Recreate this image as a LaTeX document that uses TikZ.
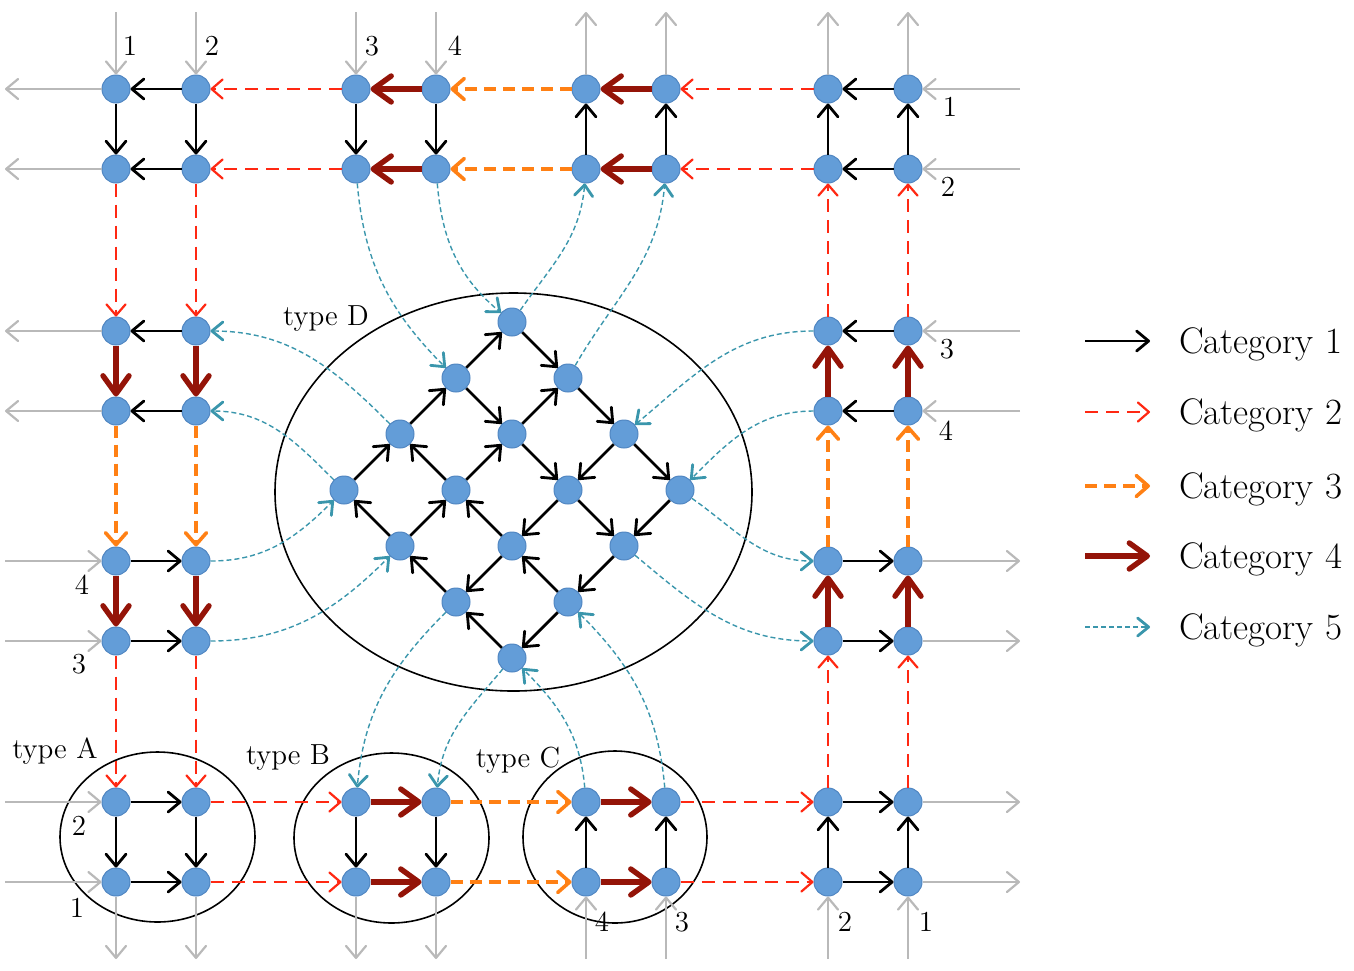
\documentclass[tikz,border=0pt]{standalone}
\usepackage{tikz}
\usetikzlibrary{arrows.meta}
\definecolor{dotblue}{RGB}{99,157,216}
\definecolor{dotedge}{RGB}{80,134,194}
\definecolor{redline}{RGB}{255,40,18}
\definecolor{orangeline}{RGB}{255,128,20}
\definecolor{darkredline}{RGB}{148,20,8}
\definecolor{tealline}{RGB}{58,150,172}
\definecolor{stubgray}{RGB}{185,185,185}

\begin{document}
\begin{tikzpicture}[
  x=0.5pt, y=-0.5pt,
  font=\fontsize{14.5}{16}\selectfont,
  dot/.style={circle,fill=dotblue,draw=dotedge,line width=0.5pt,minimum size=14pt,inner sep=0pt},
  zone/.style={draw,line width=0.8pt},
  cat1/.style={-{Straight Barb[length=6pt,width=10pt,line width=1.4pt,round]},line width=1.4pt,black},
  cat2/.style={-{Straight Barb[length=5.5pt,width=9.5pt,line width=1.1pt,round]},line width=0.8pt,redline,dash pattern=on 6.5pt off 4pt},
  cat3/.style={-{Straight Barb[length=6pt,width=10.5pt,line width=1.8pt,round]},line width=2pt,orangeline,dash pattern=on 6pt off 3.5pt},
  cat4/.style={-{Straight Barb[length=9pt,width=13pt,line width=2.7pt,round]},line width=2.7pt,darkredline},
  cat5/.style={-{Straight Barb[length=5.5pt,width=9pt,line width=1.4pt,round]},line width=0.7pt,tealline,dash pattern=on 2.5pt off 1.5pt},
  stub/.style={-{Straight Barb[length=6pt,width=10pt,line width=1.1pt,round]},line width=1.1pt,stubgray},
  legtext/.style={anchor=base west,font=\fontsize{18.5}{21}\selectfont}
]
\useasboundingbox (0,0) rectangle (1354,970);

\foreach \b/\x/\y in {a/116/89,b/356/89,c/586/89,d/828/89,e/828/331,f/828/561,g/828/802,h/586/802,k/356/802,m/116/802,n/116/561,p/116/331}{
  \node[dot] (\b1) at (\x,\y) {};
  \node[dot] (\b2) at (\x+80,\y) {};
  \node[dot] (\b3) at (\x,\y+80) {};
  \node[dot] (\b4) at (\x+80,\y+80) {};
}
\foreach \i in {0,...,3}
  \foreach \j in {0,...,3}
    \node[dot] (q\i\j) at (512+56*\i-56*\j,322+56*\i+56*\j) {};

\draw[zone] (157.5,837) ellipse [x radius=48.75pt, y radius=42.5pt];
\draw[zone] (391.5,838) ellipse [x radius=48.75pt, y radius=42.5pt];
\draw[zone] (615,837) ellipse [x radius=46pt, y radius=43pt];
\draw[zone] (513.5,492) ellipse [x radius=119.25pt, y radius=99.5pt];
\node (typeA) at (55,751) {type A};
\node (typeB) at (288,758) {type B};
\node (typeC) at (518,760) {type C};
\node (typeD) at (326,319) {type D};

\foreach \s/\t in {a2/a1,a4/a3,a1/a3,a2/a4,b1/b3,b2/b4,c3/c1,c4/c2,d2/d1,d4/d3,d3/d1,d4/d2,e2/e1,e4/e3,f1/f2,f3/f4,g1/g2,g3/g4,g3/g1,g4/g2,h3/h1,h4/h2,k1/k3,k2/k4,m1/m2,m3/m4,m1/m3,m2/m4,n1/n2,n3/n4,p2/p1,p4/p3}
  \draw[cat1] (\s) -- (\t);
\foreach \s/\t in {q00/q10,q10/q20,q20/q30,q01/q11,q11/q21,q21/q31,q12/q02,q22/q12,q32/q22,q13/q03,q23/q13,q33/q23,q03/q02,q02/q01,q01/q00,q13/q12,q12/q11,q11/q10,q20/q21,q21/q22,q22/q23,q30/q31,q31/q32,q32/q33}
  \draw[cat1] (\s) -- (\t);
\foreach \s/\t in {b1/a2,b3/a4,d1/c2,d3/c4,a3/p1,a4/p2,e1/d3,e2/d4,g1/f3,g2/f4,n3/m1,n4/m2,m2/k1,m4/k3,h2/g1,h4/g3}
  \draw[cat2] (\s) -- (\t);
\foreach \s/\t in {c1/b2,c3/b4,p3/n1,p4/n2,f1/e3,f2/e4,k2/h1,k4/h3}
  \draw[cat3] (\s) -- (\t);
\foreach \s/\t in {b2/b1,b4/b3,c2/c1,c4/c3,e3/e1,e4/e2,f3/f1,f4/f2,h1/h2,h3/h4,k1/k2,k3/k4,n1/n3,n2/n4,p1/p3,p2/p4}
  \draw[cat4] (\s) -- (\t);
\foreach \s/\t/\o/\n in {b3/q01/-85/135,b4/q00/-85/140,q00/c3/55/-95,q10/c4/60/-95,e1/q20/180/40,e3/q30/180/45,q30/f1/-35/180,q31/f3/-40/180,h1/q33/95/-45,h2/q32/95/-45,q23/k1/-135/85,q33/k2/-130/85,q02/p2/135/0,q03/p4/135/0,n2/q03/0/-135,n4/q13/0/-135}
  \draw[cat5] (\s) to[out=\o,in=\n] (\t);

\foreach \n/\dx/\dy in {a1/0/-77,a2/0/-77,b1/0/-77,b2/0/-77,d2/112/0,d4/112/0,e2/112/0,e4/112/0,g3/0/77,g4/0/77,h3/0/77,h4/0/77,m1/-111/0,m3/-111/0,n1/-111/0,n3/-111/0}
  \draw[stub] (\n) ++(\dx,\dy) coordinate (in-\n) -- (\n);
\foreach \n/\dx/\dy in {a1/-111/0,a3/-111/0,p1/-111/0,p3/-111/0,c1/0/-77,c2/0/-77,d1/0/-77,d2/0/-77,f2/112/0,f4/112/0,g2/112/0,g4/112/0,k3/0/77,k4/0/77,m3/0/77,m4/0/77}
  \draw[stub] (\n) -- ++(\dx,\dy) coordinate (out-\n);

\foreach \n/\t/\x/\y in {a1/1/130/46,a2/2/212/46,b1/3/372/46,b2/4/455/46,d2/1/950/107,d4/2/948/187,e2/3/947/349,e4/4/946/431,g3/2/845/922,g4/1/926/922,h3/4/602/922,h4/3/682/922,m1/2/79/826,m3/1/77/908,n1/4/82/585,n3/3/79/664}
  \node (num-\n) at (\x,\y) {\t};

\foreach \k/\y in {1/341,2/412,3/486,4/556,5/627}{
  \coordinate (legs\k) at (1085,\y);
  \coordinate (lege\k) at (1150,\y);
  \node[legtext] (leg\k) at (1172,\y+12) {Category \k};
  \draw[cat\k] (legs\k) -- (lege\k);
}
\end{tikzpicture}
\end{document}
